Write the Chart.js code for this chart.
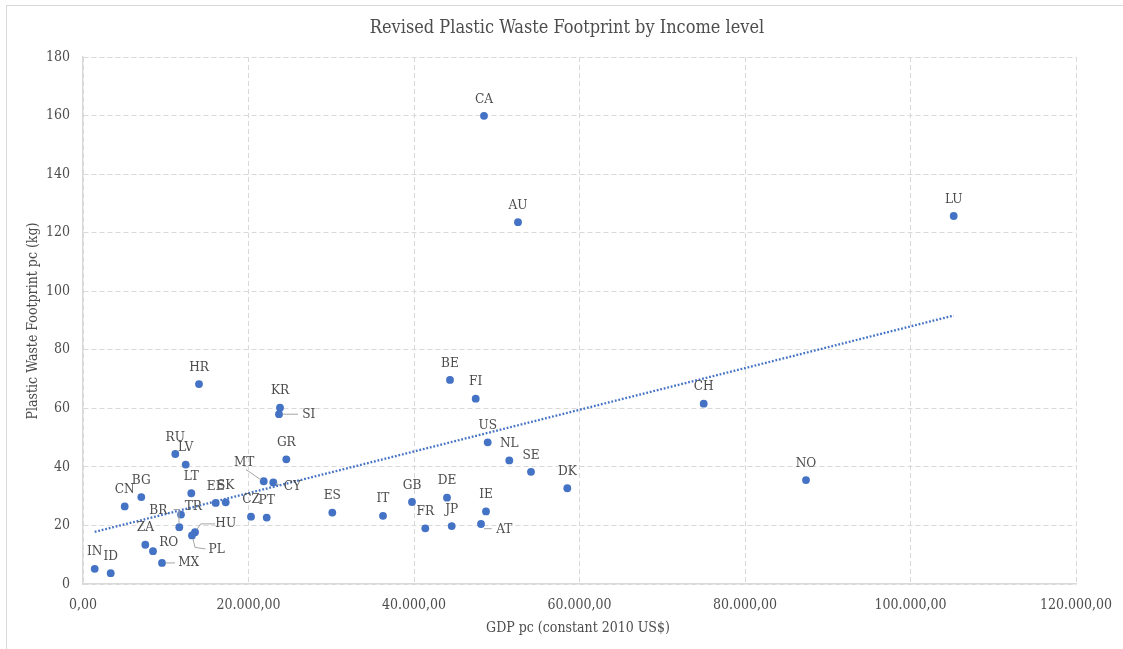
<!DOCTYPE html>
<html><head><meta charset="utf-8">
<script src="https://cdn.jsdelivr.net/npm/chart.js@4"></script>
<style>html,body{margin:0;padding:0;background:#fff;overflow:hidden}canvas{display:block}</style>
</head><body>
<canvas id="c" width="1123" height="649"></canvas>
<script>
// ---- data ----
const countryCodes = ['IN','ID','CN','BG','RU','LV','LT','TR','BR','HU','PL','ZA','RO','MX','EE','SK','MT','CY','GR','CZ','PT','ES','IT','GB','FR','DE','JP','IE','AT','BE','FI','US','NL','SE','DK','KR','SI','HR','CA','AU','LU','CH','NO'];
const gdpPerCapita = [1414,3347,5039,7045,11154,12411,13088,11843,11637,13535,13172,7529,8459,9547,16036,17245,21837,22997,24568,20302,22199,30127,36254,39758,41366,43988,44556,48701,48097,44350,47456,48906,51517,54139,58526,23807,23686,14018,48459,52568,105220,75009,87372];
const plasticFootprint = [5.2,3.7,26.5,29.7,44.4,40.8,31.0,23.7,19.4,17.7,16.6,13.4,11.2,7.2,27.7,27.9,35.1,34.7,42.6,23.0,22.7,24.4,23.3,28.0,19.0,29.5,19.8,24.8,20.5,69.7,63.3,48.4,42.2,38.3,32.7,60.2,58.0,68.3,159.9,123.6,125.7,61.6,35.5];
const trendX = [1414, 105220];
const trendY = [17.8, 91.7];
const xTickValues = [0,20000,40000,60000,80000,100000,120000];
const yTickValues = [0,20,40,60,80,100,120,140,160,180];
const chartTitle = 'Revised Plastic Waste Footprint by Income level';
const xAxisTitle = 'GDP pc (constant 2010 US$)';
const yAxisTitle = 'Plastic Waste Footprint pc (kg)';

// ---- styling ----
const FONT = "'DejaVu Serif Condensed','Liberation Serif',serif";
const TEXT = '#4d4d4d';
const BLUE = '#4472C4';
const GRID = '#d9d9d9';
// label placement (pixel offsets of label centre from its point) and leader lines
const labelPlacement = {
  MT: {dx:-19.5, dy:-19, leader:[[-17.7,-11.7],[-2.5,-1.2]]},
  CY: {dx:19, dy:4, leader:[[2.5,1],[7,3]]},
  TR: {dx:12.3, dy:-8.3},
  BR: {dx:-21, dy:-17, leader:[[-6,-17.7],[-0.3,-17.7],[-0.3,-3.5]]},
  RO: {dx:15.7, dy:-8.4},
  MX: {dx:26.7, dy:0, leader:[[3.5,0],[13,0]]},
  HU: {dx:30.7, dy:-8.4, leader:[[2,-3],[5.7,-8.3],[20,-8.3]]},
  PL: {dx:24.7, dy:14.3, leader:[[1,3.5],[3,12],[13.5,13.5]]},
  SI: {dx:29.7, dy:0, leader:[[3.5,0],[19,0]]},
  AT: {dx:23.3, dy:5.7, leader:[[3,4.7],[10.7,4.7]]}
};
const DEFAULT_DY = -16.8;

function fmtX(v){
  const s = Math.round(v).toString().replace(/\B(?=(\d{3})+(?!\d))/g,'.');
  return s + ',00';
}

const decor = {
  id:'decor',
  beforeDraw(chart){
    const ctx = chart.ctx;
    ctx.save();
    ctx.fillStyle = '#fff';
    ctx.fillRect(0,0,chart.width,chart.height);
    ctx.strokeStyle = '#d9d9d9';
    ctx.lineWidth = 1;
    ctx.strokeRect(6.5,5.5,1140,680);
    ctx.restore();
  },
  afterDraw(chart){
    const ctx = chart.ctx;
    ctx.save();
    ctx.fillStyle = TEXT;
    ctx.textAlign = 'center';
    ctx.textBaseline = 'middle';
    ctx.font = '18px ' + FONT;
    ctx.fillText(chartTitle, 567, 28);
    ctx.font = '14px ' + FONT;
    ctx.fillText(xAxisTitle, 578, 628);
    ctx.translate(33, 321);
    ctx.rotate(-Math.PI/2);
    ctx.fillText(yAxisTitle, 0, 0);
    ctx.restore();
  },
  afterDatasetsDraw(chart){
    const ctx = chart.ctx;
    const meta = chart.getDatasetMeta(0);
    ctx.save();
    ctx.font = '13.5px ' + FONT;
    ctx.textAlign = 'center';
    ctx.textBaseline = 'middle';
    meta.data.forEach((pt, i) => {
      const code = countryCodes[i];
      const p = labelPlacement[code] || {dx:0, dy:DEFAULT_DY};
      if (p.leader){
        ctx.strokeStyle = '#a6a6a6';
        ctx.lineWidth = 1;
        ctx.beginPath();
        p.leader.forEach((q, k) => {
          const X = pt.x + q[0], Y = pt.y + q[1];
          if (k===0) ctx.moveTo(X,Y); else ctx.lineTo(X,Y);
        });
        ctx.stroke();
      }
      ctx.fillStyle = TEXT;
      ctx.fillText(code, pt.x + p.dx, pt.y + p.dy);
    });
    ctx.restore();
  }
};

new Chart(document.getElementById('c'), {
  type:'scatter',
  data:{
    datasets:[
      {
        label:'Countries',
        data: gdpPerCapita.map((x,i)=>({x, y: plasticFootprint[i]})),
        backgroundColor: BLUE,
        borderColor: BLUE,
        borderWidth: 0,
        pointRadius: 3.9,
        order: 1
      },
      {
        type:'line',
        label:'Trend',
        data: trendX.map((x,i)=>({x, y: trendY[i]})),
        borderColor: BLUE,
        borderWidth: 2.3,
        borderDash: [1.8,1.8],
        pointRadius: 0,
        fill:false,
        order: 2
      }
    ]
  },
  options:{
    responsive:false,
    animation:false,
    devicePixelRatio:1,
    layout:{padding:{top:57, right:47, bottom:0, left:0}},
    plugins:{legend:{display:false}, tooltip:{enabled:false}, title:{display:false}},
    scales:{
      x:{
        type:'linear', min:0, max:120000,
        afterBuildTicks(s){ s.ticks = xTickValues.map(v=>({value:v})); },
        afterFit(s){ s.height = 65; s.paddingRight = 0; s.paddingLeft = 0; },
        ticks:{ callback:(v)=>fmtX(v), color:TEXT, font:{family:FONT, size:14}, padding:13, maxRotation:0 },
        grid:{ color:GRID, drawTicks:false, lineWidth:1 },
        border:{ display:true, color:GRID, width:1.5, dash:[5,3] }
      },
      y:{
        type:'linear', min:0, max:180,
        afterBuildTicks(s){ s.ticks = yTickValues.map(v=>({value:v})); },
        afterFit(s){ s.width = 83; s.paddingTop = 0; s.paddingBottom = 0; },
        ticks:{ color:TEXT, font:{family:FONT, size:14}, padding:13 },
        grid:{ color:GRID, drawTicks:false, lineWidth:1 },
        border:{ display:true, color:GRID, width:1.5, dash:[5,3] }
      }
    }
  },
  plugins:[decor]
});
</script>
</body></html>
